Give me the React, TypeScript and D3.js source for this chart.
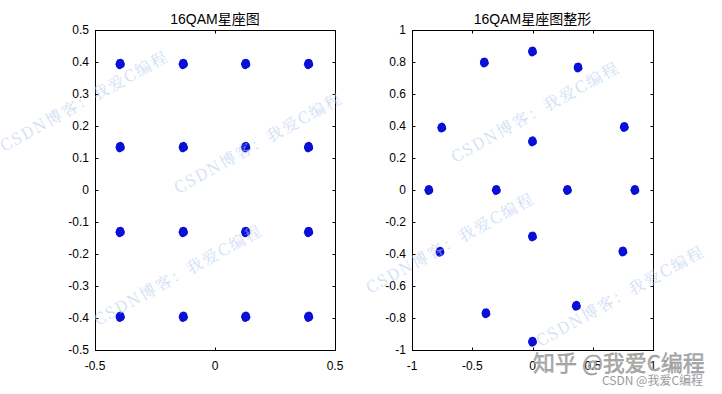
import React from 'react';
import * as d3 from 'd3';

// Left plot: 16QAM constellation cluster centres (I and Q levels)
const qamI = [-0.395, -0.132, 0.128, 0.39];
const qamQ = [0.394, 0.134, -0.131, -0.396];

// Right plot: shaped constellation cluster centres
const shapedX = [-0.86, -0.3, 0.29, 0.85, 0, 0, 0, 0, -0.753, -0.4, 0.378, 0.762, -0.768, 0.75, -0.386, 0.364];
const shapedY = [0, 0, 0, 0, 0.304, -0.29, 0.866, -0.948, 0.39, 0.797, 0.766, 0.394, -0.386, -0.384, -0.77, -0.724];

// Hand-read noise pattern for each cluster (unit scale)
const jitter: [number, number][] = [
  [0, 0], [0.5, 0.2], [-0.4, 0.5], [0.3, -0.6], [-0.6, -0.3], [0.8, 0.1], [-0.8, 0.2],
  [0.1, 0.85], [-0.2, -0.85], [0.6, 0.6], [-0.55, 0.65], [0.55, -0.55], [-0.6, -0.65],
  [0.9, -0.25], [-0.9, -0.1], [0.25, 0.4], [-0.3, -0.3], [0.15, -0.3], [-0.1, 0.3], [0.4, -0.1],
];

const leftXTicks = [-0.5, 0, 0.5];
const leftXLabels = ['-0.5', '0', '0.5'];
const leftYTicks = [-0.5, -0.4, -0.3, -0.2, -0.1, 0, 0.1, 0.2, 0.3, 0.4, 0.5];
const leftYLabels = ['-0.5', '-0.4', '-0.3', '-0.2', '-0.1', '0', '0.1', '0.2', '0.3', '0.4', '0.5'];
const rightXTicks = [-1, -0.5, 0, 0.5, 1];
const rightXLabels = ['-1', '-0.5', '0', '0.5', '1'];
const rightYTicks = [-1, -0.8, -0.6, -0.4, -0.2, 0, 0.2, 0.4, 0.6, 0.8, 1];
const rightYLabels = ['-1', '-0.8', '-0.6', '-0.4', '-0.2', '0', '0.2', '0.4', '0.6', '0.8', '1'];

const titles = ['16QAM星座图', '16QAM星座图整形'];
const watermark = 'CSDN博客：我爱C编程';
const watermarkSpots: [number, number][] = [
  [4, 152], [178, 194], [98, 326], [455, 163], [370, 294], [540, 347],
];

const FONT = '"Liberation Sans", Arial, "Noto Sans CJK SC", sans-serif';
const BLUE = '#0a10d6';

type PanelProps = {
  x0: number; x1: number; y0: number; y1: number;
  domX: [number, number]; domY: [number, number];
  xTicks: number[]; xLabels: string[]; yTicks: number[]; yLabels: string[];
  title: string; pts: [number, number][]; amp: number;
};

function Panel(p: PanelProps) {
  const xs = d3.scaleLinear().domain(p.domX).range([p.x0, p.x1]);
  const ys = d3.scaleLinear().domain(p.domY).range([p.y1, p.y0]);
  const tl = 3;
  return (
    <g>
      <rect x={p.x0} y={p.y0} width={p.x1 - p.x0} height={p.y1 - p.y0} fill="#fff" />
      {p.pts.map(([cx, cy], i) => (
        <g key={i}>
          {jitter.map(([jx, jy], k) => (
            <circle key={k} cx={xs(cx + jx * p.amp)} cy={ys(cy + jy * p.amp)} r={2.3} fill={BLUE} />
          ))}
        </g>
      ))}
      <rect x={p.x0 + 0.5} y={p.y0 + 0.5} width={p.x1 - p.x0} height={p.y1 - p.y0} fill="none" stroke="#000" strokeWidth={1} />
      {p.xTicks.map((t, i) => {
        const x = Math.round(xs(t)) + 0.5;
        return (
          <g key={'x' + i}>
            <line x1={x} x2={x} y1={p.y1 + 0.5} y2={p.y1 + 0.5 - tl} stroke="#000" />
            <line x1={x} x2={x} y1={p.y0 + 0.5} y2={p.y0 + 0.5 + tl} stroke="#000" />
            <text x={xs(t)} y={p.y1 + 20} textAnchor="middle" fontSize={12} fontFamily={FONT} fill="#000">{p.xLabels[i]}</text>
          </g>
        );
      })}
      {p.yTicks.map((t, i) => {
        const y = Math.round(ys(t)) + 0.5;
        return (
          <g key={'y' + i}>
            <line x1={p.x0 + 0.5} x2={p.x0 + 0.5 + tl} y1={y} y2={y} stroke="#000" />
            <line x1={p.x1 + 0.5} x2={p.x1 + 0.5 - tl} y1={y} y2={y} stroke="#000" />
            <text x={p.x0 - 6} y={ys(t) + 4} textAnchor="end" fontSize={12} fontFamily={FONT} fill="#000">{p.yLabels[i]}</text>
          </g>
        );
      })}
      <text x={(p.x0 + p.x1) / 2} y={24} textAnchor="middle" fontSize={14} fontFamily={FONT} fill="#000">{p.title}</text>
    </g>
  );
}

export default function App() {
  const leftPts: [number, number][] = [];
  qamQ.forEach((q) => qamI.forEach((i) => leftPts.push([i, q])));
  const rightPts: [number, number][] = shapedX.map((x, i) => [x, shapedY[i]]);
  return (
    <svg width={722} height={394} style={{ position: 'absolute', left: 0, top: 0, background: '#fff' }}>
      <rect width={722} height={394} fill="#fff" />
      <Panel x0={95} x1={335} y0={30} y1={350} domX={[-0.5, 0.5]} domY={[-0.5, 0.5]}
        xTicks={leftXTicks} xLabels={leftXLabels} yTicks={leftYTicks} yLabels={leftYLabels}
        title={titles[0]} pts={leftPts} amp={0.011} />
      <Panel x0={412} x1={653} y0={30} y1={350} domX={[-1, 1]} domY={[-1, 1]}
        xTicks={rightXTicks} xLabels={rightXLabels} yTicks={rightYTicks} yLabels={rightYLabels}
        title={titles[1]} pts={rightPts} amp={0.02} />
      {watermarkSpots.map(([x, y], i) => (
        <text key={i} x={x} y={y} transform={`rotate(-29 ${x} ${y})`} fontSize={16}
          fontFamily='"Noto Serif CJK SC", "Noto Sans CJK SC", serif' fill="#b4c9ee" opacity={0.6}
          textLength={188} lengthAdjust="spacing">{watermark}</text>
      ))}
      <text x={533} y={371} fontSize={22} fontFamily='"Noto Sans CJK SC", sans-serif' fill="#b0b0b0"
        stroke="#8a8a8a" strokeWidth={0.4}>知乎 @我爱C编程</text>
      <text x={602} y={385} fontSize={12} fontFamily='"Noto Sans CJK SC", sans-serif' fill="#9a9a9a">CSDN @我爱C编程</text>
    </svg>
  );
}
